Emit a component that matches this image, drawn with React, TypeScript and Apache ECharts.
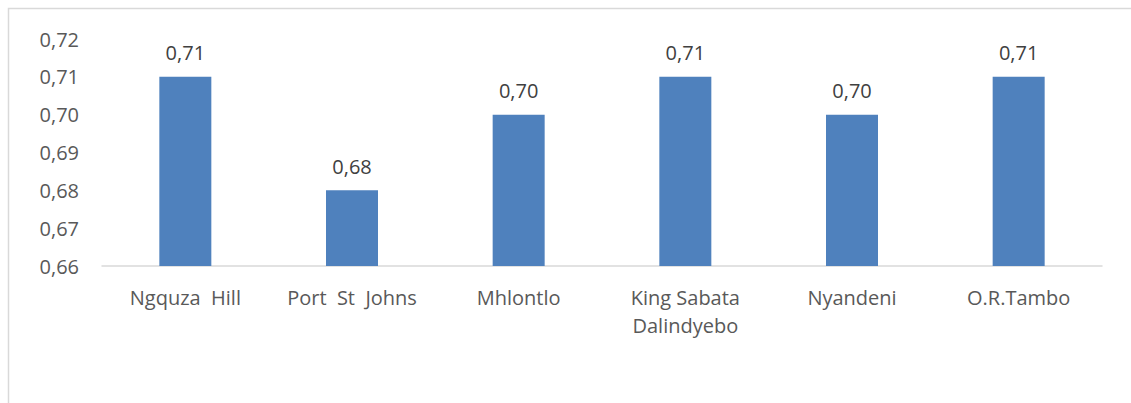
import React, { useEffect, useRef } from "react";
import * as echarts from "echarts";

const categories = ["Ngquza  Hill", "Port  St  Johns", "Mhlontlo", "King Sabata\nDalindyebo", "Nyandeni", "O.R.Tambo"];
const values = [0.71, 0.68, 0.70, 0.71, 0.70, 0.71];
const yMin = 0.66;
const yMax = 0.72;
const yStep = 0.01;

const fmt = (v: number) => v.toFixed(2).replace(".", ",");

export default function App() {
  const ref = useRef<HTMLDivElement>(null);
  useEffect(() => {
    if (!ref.current) return;
    const chart = echarts.init(ref.current, null, { renderer: "svg" });
    const font = "'Open Sans', 'Liberation Sans', sans-serif";
    chart.setOption({
      animation: false,
      backgroundColor: "#ffffff",
      textStyle: { fontFamily: font },
      graphic: [
        {
          type: "rect",
          shape: { x: 8.5, y: 8.5, width: 1200, height: 500 },
          style: { fill: "none", stroke: "#d9d9d9", lineWidth: 1.5 },
          silent: true,
        },
      ],
      grid: { left: 102, right: 29, top: 39, bottom: 137 },
      xAxis: {
        type: "category",
        data: categories,
        axisLine: { show: true, lineStyle: { color: "#d9d9d9", width: 1.5 } },
        axisTick: { show: false },
        axisLabel: {
          color: "#595959",
          fontSize: 20,
          fontFamily: font,
          margin: 17,
          lineHeight: 28,
          interval: 0,
        },
      },
      yAxis: {
        type: "value",
        min: yMin,
        max: yMax,
        interval: yStep,
        axisLine: { show: false },
        axisTick: { show: false },
        splitLine: { show: false },
        axisLabel: {
          color: "#595959",
          fontSize: 20,
          fontFamily: font,
          margin: 23,
          formatter: (v: number) => fmt(v),
        },
      },
      series: [
        {
          type: "bar",
          data: values,
          barWidth: 52,
          itemStyle: { color: "#4f81bd" },
          label: {
            show: true,
            position: "top",
            distance: 14,
            color: "#404040",
            fontSize: 20,
            fontFamily: font,
            formatter: (p: any) => fmt(p.value),
          },
        },
      ],
    });
    return () => chart.dispose();
  }, []);
  return (
    <div
      ref={ref}
      style={{ position: "absolute", left: 0, top: 0, width: 1131, height: 403 }}
    />
  );
}
